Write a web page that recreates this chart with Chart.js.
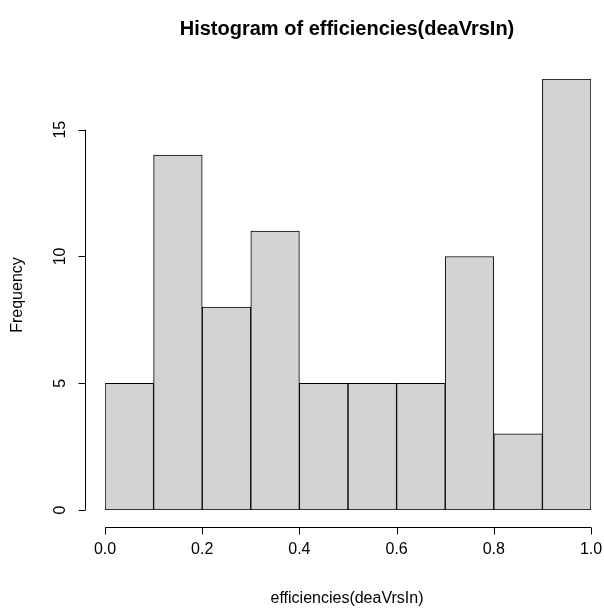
<!DOCTYPE html>
<html>
<head>
<meta charset="utf-8">
<script src="https://cdn.jsdelivr.net/npm/chart.js@4.4.0/dist/chart.umd.min.js"></script>
<style>
  html, body { margin: 0; padding: 0; background: #fff; }
  #wrap { width: 604px; height: 608px; }
</style>
</head>
<body>
<div id="wrap"><canvas id="hist"></canvas></div>
<script>
// histogram data
var breaks = [0.0, 0.1, 0.2, 0.3, 0.4, 0.5, 0.6, 0.7, 0.8, 0.9, 1.0];
var counts = [5, 14, 8, 11, 5, 5, 5, 10, 3, 17];
var xTicks = [0.0, 0.2, 0.4, 0.6, 0.8, 1.0];
var yTicks = [0, 5, 10, 15];
var titleText = 'Histogram of efficiencies(deaVrsIn)';
var xLabel = 'efficiencies(deaVrsIn)';
var yLabel = 'Frequency';

var points = counts.map(function(c, i) {
  return { x: (breaks[i] + breaks[i + 1]) / 2, y: c };
});

var font = '"Liberation Sans", Arial, Helvetica, sans-serif';

// R style axes, offset from the plot
var rAxes = {
  id: 'rAxes',
  afterDraw: function(chart) {
    var ctx = chart.ctx;
    var xs = chart.scales.x, ys = chart.scales.y;
    ctx.save();
    ctx.strokeStyle = '#000';
    ctx.fillStyle = '#000';
    ctx.lineWidth = 1;

    // x axis
    var ay = 527.5;
    ctx.beginPath();
    ctx.moveTo(xs.getPixelForValue(xTicks[0]), ay);
    ctx.lineTo(xs.getPixelForValue(xTicks[xTicks.length - 1]), ay);
    xTicks.forEach(function(t) {
      var px = Math.round(xs.getPixelForValue(t)) + 0.5;
      ctx.moveTo(px, ay);
      ctx.lineTo(px, ay + 7);
    });
    ctx.stroke();
    ctx.font = '16px ' + font;
    ctx.textAlign = 'center';
    ctx.textBaseline = 'middle';
    xTicks.forEach(function(t) {
      ctx.fillText(t.toFixed(1), xs.getPixelForValue(t), 550);
    });

    // y axis
    var ax = 85.5;
    ctx.beginPath();
    ctx.moveTo(ax, ys.getPixelForValue(yTicks[0]));
    ctx.lineTo(ax, ys.getPixelForValue(yTicks[yTicks.length - 1]));
    yTicks.forEach(function(t) {
      var py = Math.round(ys.getPixelForValue(t)) + 0.5;
      ctx.moveTo(ax, py);
      ctx.lineTo(ax - 7, py);
    });
    ctx.stroke();
    yTicks.forEach(function(t) {
      ctx.save();
      ctx.translate(61, ys.getPixelForValue(t));
      ctx.rotate(-Math.PI / 2);
      ctx.fillText(String(t), 0, 0);
      ctx.restore();
    });

    // titles
    ctx.font = '16px ' + font;
    ctx.fillText(xLabel, 347, 599);
    ctx.save();
    ctx.translate(18, 295);
    ctx.rotate(-Math.PI / 2);
    ctx.fillText(yLabel, 0, 0);
    ctx.restore();

    ctx.font = 'bold 20px ' + font;
    ctx.fillText(titleText, 347, 29);
    ctx.restore();
  }
};

var chart = new Chart(document.getElementById('hist').getContext('2d'), {
  type: 'bar',
  data: {
    datasets: [{
      data: points,
      backgroundColor: '#D3D3D3',
      borderColor: '#000',
      borderWidth: 1,
      borderSkipped: false,
      barPercentage: 1.0,
      categoryPercentage: 1.0
    }]
  },
  options: {
    responsive: true,
    maintainAspectRatio: false,
    animation: false,
    layout: { padding: { left: 105, right: 13, top: 79, bottom: 98 } },
    plugins: { legend: { display: false }, tooltip: { enabled: false }, title: { display: false } },
    scales: {
      x: { type: 'linear', min: 0, max: 1, display: false, offset: false, ticks: { stepSize: 0.2 } },
      y: { min: 0, max: 17, display: false }
    }
  },
  plugins: [rAxes]
});
</script>
</body>
</html>
